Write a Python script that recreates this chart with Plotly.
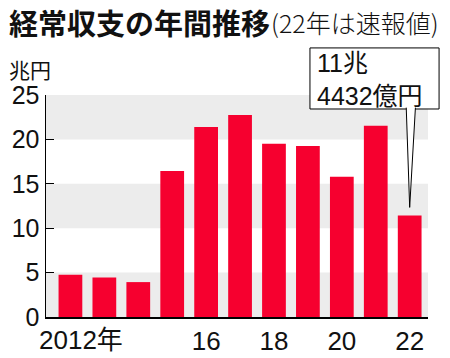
import plotly.graph_objects as go

years = [2012, 2013, 2014, 2015, 2016, 2017, 2018, 2019, 2020, 2021, 2022]
balance = [4.77, 4.45, 3.93, 16.45, 21.4, 22.75, 19.5, 19.25, 15.8, 21.55, 11.4432]
tick_vals = [2016, 2018, 2020, 2022]
tick_text = ["16", "18", "20", "22"]
y_ticks = [0, 5, 10, 15, 20, 25]

CJK = "Noto Sans CJK JP"
NUM = "Liberation Sans, Noto Sans CJK JP"
RED = "#f6002f"
X_RANGE = [2011.28, 2022.54]
Y_RANGE = [0, 25]

fig = go.Figure(go.Bar(x=years, y=balance, marker=dict(color=RED, line=dict(width=0)), width=0.7,
                       hoverinfo="skip"))

shapes = []
for lo in (0, 10, 20):
    shapes.append(dict(type="rect", xref="paper", yref="y", x0=0, x1=1, y0=lo, y1=lo + 5,
                       fillcolor="#ececec", line=dict(width=0), layer="below"))

def px(xv):
    return (xv - X_RANGE[0]) / (X_RANGE[1] - X_RANGE[0])

def py(yv):
    return (yv - Y_RANGE[0]) / (Y_RANGE[1] - Y_RANGE[0])

# callout box
box_bottom = 0.937
shapes.append(dict(type="rect", xref="paper", yref="paper", x0=0.691, x1=1.029, y0=box_bottom, y1=1.212,
                   fillcolor="white", line=dict(color="black", width=1), layer="above"))
# wedge pointing to the last bar
tip_x = px(years[-1])
tip_y = py(balance[-1] + 0.9)
shapes.append(dict(type="path", xref="paper", yref="paper",
                   path=f"M {tip_x-0.009},{box_bottom+0.006} L {tip_x},{tip_y} L {tip_x+0.015},{box_bottom+0.006}",
                   fillcolor="white", line=dict(color="black", width=1), layer="above"))

annotations = [
    dict(text="<b>経常収支の年間推移</b>", xref="paper", yref="paper", x=-0.101, y=1.33,
         xanchor="left", yanchor="middle", showarrow=False,
         font=dict(family=CJK, size=29, color="#111", weight=900)),
    dict(text="(22年は速報値)", xref="paper", yref="paper", x=0.585, y=1.327,
         xanchor="left", yanchor="middle", showarrow=False,
         font=dict(family=CJK, size=25, color="#111", weight=300)),
    dict(text="兆円", xref="paper", yref="paper", x=-0.102, y=1.117, xanchor="left", yanchor="middle",
         showarrow=False, font=dict(family=CJK, size=21, color="#111")),
    dict(text="2012年", xref="x", yref="paper", x=2012, y=-0.025, xanchor="center", yanchor="top",
         xshift=11, showarrow=False, font=dict(family=NUM, size=26, color="#111")),
    dict(text="11兆<br>4432億円", xref="paper", yref="paper", x=0.705, y=1.216, xanchor="left", yanchor="top",
         showarrow=False, align="left", font=dict(family=NUM, size=25, color="#111")),
]

fig.update_layout(
    width=450, height=358,
    margin=dict(l=46, r=22, t=95, b=41),
    paper_bgcolor="white", plot_bgcolor="white",
    showlegend=False,
    hovermode=False,
    xaxis=dict(range=X_RANGE, tickvals=tick_vals, ticktext=tick_text, ticks="", showgrid=False,
               showline=True, linecolor="black", linewidth=1.5, zeroline=False, automargin=False,
               ticklabelstandoff=0,
               tickfont=dict(family=NUM, size=26, color="#111")),
    yaxis=dict(range=Y_RANGE, tickvals=y_ticks, ticks="inside", ticklen=8, tickcolor="black", tickwidth=1,
               showgrid=False, showline=True, linecolor="black", linewidth=1.5, zeroline=False,
               automargin=False, tickfont=dict(family=NUM, size=25, color="#111")),
    shapes=shapes,
    annotations=annotations,
    bargap=0.3,
)

fig.write_html("out.html", config={"displayModeBar": False, "staticPlot": True},
               post_script="document.body.style.margin='0';document.body.style.overflow='hidden';")
